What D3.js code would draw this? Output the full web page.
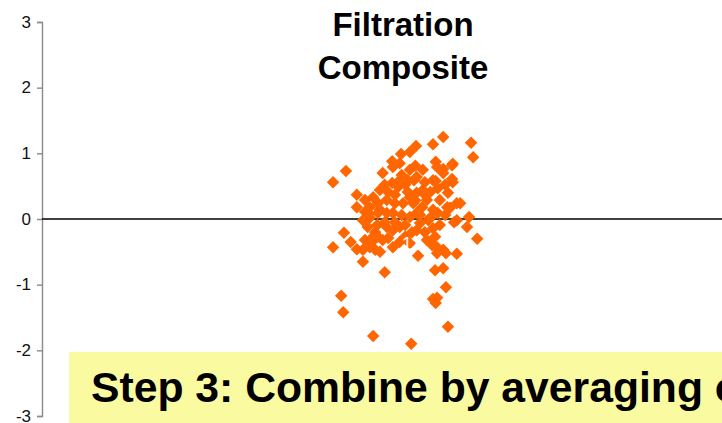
<!DOCTYPE html>
<html>
<head>
<meta charset="utf-8">
<script src="https://cdn.jsdelivr.net/npm/d3@7"></script>
<style>
    body { margin: 0; background: #fff; }
    text { font-family: "Liberation Sans", Arial, sans-serif; }
</style>
</head>
<body>
<div id="scatter"></div>
<script>
// chart values
var xValues = [5.90, 5.75, 6.31, 6.34, 5.50, 5.41, 5.28, 5.15, 6.04, 5.79,
    5.90, 4.47, 4.28, 5.01, 5.29, 5.47, 5.63, 5.79, 6.03, 4.63,
    6.15, 6.28, 6.00, 6.06, 6.25, 6.40, 4.44, 4.28, 4.54, 4.63,
    4.72, 5.04, 4.40, 4.43, 4.87, 5.43, 5.97, 5.94, 5.75, 5.81,
    5.79, 5.78, 5.90, 5.81, 5.94, 6.10, 5.78, 5.53, 4.90, 4.85,
    4.94, 4.72, 4.81, 5.16, 5.26, 5.15, 5.24, 5.38, 5.51, 5.60,
    5.71, 5.82, 5.81, 5.90, 6.03, 6.04, 5.97, 5.85, 5.75, 5.68,
    5.56, 5.51, 5.75, 5.66, 5.41, 5.26, 5.16, 5.07, 5.01, 4.87,
    4.82, 4.72, 4.97, 5.16, 5.26, 5.34, 5.16, 5.29, 5.41, 5.51,
    5.59, 5.46, 5.31, 5.19, 5.07, 4.94, 4.82, 4.75, 4.82, 4.94,
    5.07, 5.04, 4.93, 4.79, 6.10, 6.10, 5.96, 5.82, 5.66, 5.75,
    5.51, 5.38, 5.26, 5.41, 5.60, 5.09, 4.97, 4.87, 4.75, 4.63,
    5.41, 5.81, 5.90, 5.04, 5.19, 5.34, 5.49, 5.63, 5.19, 5.34,
    5.44, 5.56, 5.71, 5.85, 4.90, 5.09, 4.75, 4.97, 5.63, 5.74,
    5.93, 5.49, 5.93];
var yValues = [1.25, 1.14, 1.16, 0.94, 1.11, 1.02, 0.99, 0.88, 0.84, 0.87,
    0.76, 0.73, 0.56, 0.70, 0.67, 0.59, 0.56, 0.58, 0.61, 0.37,
    0.24, 0.03, 0.17, -0.05, -0.12, -0.30, -0.21, -0.43, -0.35, -0.46,
    -0.65, -0.81, -1.17, -1.42, -1.78, -1.90, -1.64, -1.04, -1.22, -1.20,
    -1.28, -0.78, -0.75, -0.52, -0.52, -0.53, -0.27, -0.56, -0.47, -0.35,
    -0.27, -0.02, 0.08, 0.79, 0.85, 0.55, 0.49, 0.41, 0.40, 0.44,
    0.41, 0.47, 0.79, 0.70, 0.82, 0.56, 0.40, 0.29, 0.14, -0.02,
    -0.06, -0.17, -0.14, -0.32, -0.37, -0.12, -0.17, -0.12, -0.32, -0.27,
    -0.43, -0.47, -0.50, -0.43, -0.35, -0.27, 0.09, 0.06, 0.03, 0.09,
    0.18, 0.24, 0.24, 0.24, 0.29, 0.24, 0.18, 0.11, 0.02, 0.09,
    0.09, -0.05, -0.09, -0.12, 0.24, -0.02, 0.18, 0.09, 0.29, 0.59,
    0.64, 0.59, 0.59, 0.75, 0.75, 0.41, 0.44, 0.33, 0.29, 0.18,
    0.33, -0.43, -0.47, 0.52, 0.37, 0.52, 0.28, 0.37, -0.05, -0.09,
    -0.20, 0.06, 0.02, -0.09, -0.20, -0.29, -0.32, 0.14, -0.20, -0.40,
    0.06, 0.81, 0.52];
var yTicks = [-3, -2, -1, 0, 1, 2, 3];
var titleLines = ["Filtration", "Composite"];
var pointLabel = { x: 5.44, y: -0.37, text: "13" };
var stepText = "Step 3: Combine by averaging over all measures";

var svgWidth = 722;
var svgHeight = 423;

var margin = { top: 22, right: 0, bottom: 7, left: 42 };
var width = svgWidth - margin.left - margin.right;
var height = svgHeight - margin.top - margin.bottom;

var svg = d3.select("#scatter")
    .append("svg")
    .attr("width", svgWidth)
    .attr("height", svgHeight);

var chartGroup = svg.append("g")
    .attr("transform", `translate(${margin.left}, ${margin.top})`);

var data = xValues.map(function (x, i) {
    return { x: x, y: yValues[i] };
});

var xLinearScale = d3.scaleLinear()
    .domain([0, 10])
    .range([0, width]);

var yLinearScale = d3.scaleLinear()
    .domain([-3, 3])
    .range([height, 0]);

// y axis, grey, ticks outside, plain hyphen minus like the original
var yAxis = d3.axisLeft(yLinearScale)
    .tickValues(yTicks)
    .tickSize(5)
    .tickPadding(6)
    .tickFormat(function (d) { return String(d); });

var yAxisGroup = chartGroup.append("g")
    .call(yAxis);
yAxisGroup.select(".domain")
    .attr("stroke", "#8a8a8a")
    .attr("stroke-width", 1.4);
yAxisGroup.selectAll(".tick line")
    .attr("stroke", "#8a8a8a")
    .attr("stroke-width", 1.4);
yAxisGroup.selectAll(".tick text")
    .attr("fill", "#111")
    .attr("font-size", 17)
    .attr("dy", "0.3em")
    .style("font-family", "Liberation Sans, Arial, sans-serif");

// zero line across the plot
chartGroup.append("line")
    .attr("x1", 0)
    .attr("x2", width)
    .attr("y1", yLinearScale(0))
    .attr("y2", yLinearScale(0))
    .attr("stroke", "#000")
    .attr("stroke-width", 1.3);

// diamonds
var diamond = d3.symbol().type(d3.symbolSquare).size(78);
chartGroup.append("g")
    .selectAll("path")
    .data(data)
    .enter()
    .append("path")
    .attr("d", diamond)
    .attr("transform", function (d) {
        return `translate(${xLinearScale(d.x)}, ${yLinearScale(d.y)}) rotate(45)`;
    })
    .attr("fill", "#ff6600");

// the white data label left over in the middle of the cloud
chartGroup.append("text")
    .attr("x", xLinearScale(pointLabel.x))
    .attr("y", yLinearScale(pointLabel.y) + 7)
    .attr("text-anchor", "middle")
    .attr("font-size", 18)
    .attr("fill", "#fff")
    .text(pointLabel.text);

// title
svg.append("g")
    .selectAll("text")
    .data(titleLines)
    .enter()
    .append("text")
    .attr("x", 403)
    .attr("y", function (d, i) { return 36 + i * 43; })
    .attr("text-anchor", "middle")
    .attr("font-size", 33)
    .attr("font-weight", "bold")
    .attr("fill", "#000")
    .text(function (d) { return d; });

// yellow caption box over the bottom
svg.append("rect")
    .attr("x", 69)
    .attr("y", 352)
    .attr("width", svgWidth - 69)
    .attr("height", svgHeight - 352)
    .attr("fill", "#fafaa0");

svg.append("text")
    .attr("x", 91)
    .attr("y", 402)
    .attr("font-size", 42.7)
    .attr("font-weight", "bold")
    .attr("fill", "#000")
    .text(stepText);
</script>
</body>
</html>
